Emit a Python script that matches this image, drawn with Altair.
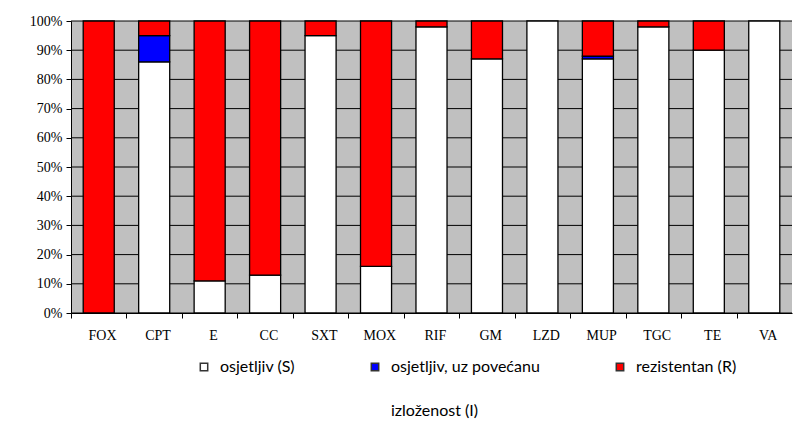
import altair as alt
import pandas as pd

categories = ["FOX", "CPT", "E", "CC", "SXT", "MOX", "RIF", "GM", "LZD", "MUP", "TGC", "TE", "VA"]
series = ["osjetljiv (S)", "osjetljiv, uz povećanu izloženost (I)", "rezistentan (R)"]
colors = ["#FFFFFF", "#0000FF", "#FF0000"]
S = [0, 86, 11, 13, 95, 16, 98, 87, 100, 87, 98, 90, 100]
I = [0, 9, 0, 0, 0, 0, 0, 0, 0, 1, 0, 0, 0]
R = [100, 5, 89, 87, 5, 84, 2, 13, 0, 12, 2, 10, 0]
y_ticks = [0, 0.1, 0.2, 0.3, 0.4, 0.5, 0.6, 0.7, 0.8, 0.9, 1.0]

rows = []
for i, c in enumerate(categories):
    for k, (name, vals) in enumerate(zip(series, [S, I, R])):
        if vals[i] > 0:
            rows.append({"cat": c, "series": name, "value": vals[i] / 100, "ord": k})
df = pd.DataFrame(rows)
grid_df = pd.DataFrame({"v": y_ticks})

W, H = 721, 292
step = W / 13

label_expr = ("datum.label == 'osjetljiv, uz povećanu izloženost (I)' ? "
              "['osjetljiv, uz povećanu', 'izloženost (I)'] : [datum.label, '\u00a0']")

yscale = alt.Scale(domain=[0, 1], nice=False)
yaxis = alt.Axis(title=None, format=".0%", values=y_ticks, grid=False,
                 labelFont="Liberation Serif", labelFontSize=14, labelColor="black",
                 tickColor="black", tickSize=5, domainColor="black", labelPadding=4)

grid = alt.Chart(grid_df).mark_rule(color="black", strokeWidth=1).encode(
    y=alt.Y("v:Q", scale=yscale, axis=yaxis)
)

bars = alt.Chart(df).mark_bar(stroke="black", strokeWidth=1.3).encode(
    x=alt.X("cat:N", sort=categories,
            scale=alt.Scale(paddingInner=0.44, paddingOuter=0.22),
            axis=alt.Axis(title=None, labelAngle=0, grid=False, bandPosition=0,
                          tickOffset=-0.22 * step, labelOffset=0.5 * 0.56 * step,
                          labelFont="Liberation Serif", labelFontSize=14, labelColor="black",
                          labelPadding=10, tickColor="black", tickSize=5,
                          domainColor="black")),
    y=alt.Y("value:Q", stack="zero", scale=yscale, axis=yaxis),
    color=alt.Color("series:N", scale=alt.Scale(domain=series, range=colors),
                    legend=alt.Legend(title=None, orient="none", direction="horizontal",
                                      columns=3, legendX=125, legendY=338,
                                      symbolType="square", symbolSize=55,
                                      symbolStrokeColor="#333333", symbolStrokeWidth=1.5,
                                      labelFont="Lato", labelFontSize=16, labelColor="black",
                                      labelLimit=400, columnPadding=72, padding=0,
                                      labelOffset=8, labelBaseline="middle",
                                      labelExpr=label_expr)),
    order=alt.Order("ord:Q"),
)

chart = alt.layer(grid, bars).properties(
    width=W, height=H,
    autosize=alt.AutoSizeParams(type="none"),
    padding={"left": 63, "top": 13, "right": 5, "bottom": 113},
).configure(
    style={"guide-label": {"lineHeight": 44}},
    view=alt.ViewConfig(fill="#C0C0C0", stroke=None),
)

chart.save("out.html", embed_options={"renderer": "svg", "actions": False})
